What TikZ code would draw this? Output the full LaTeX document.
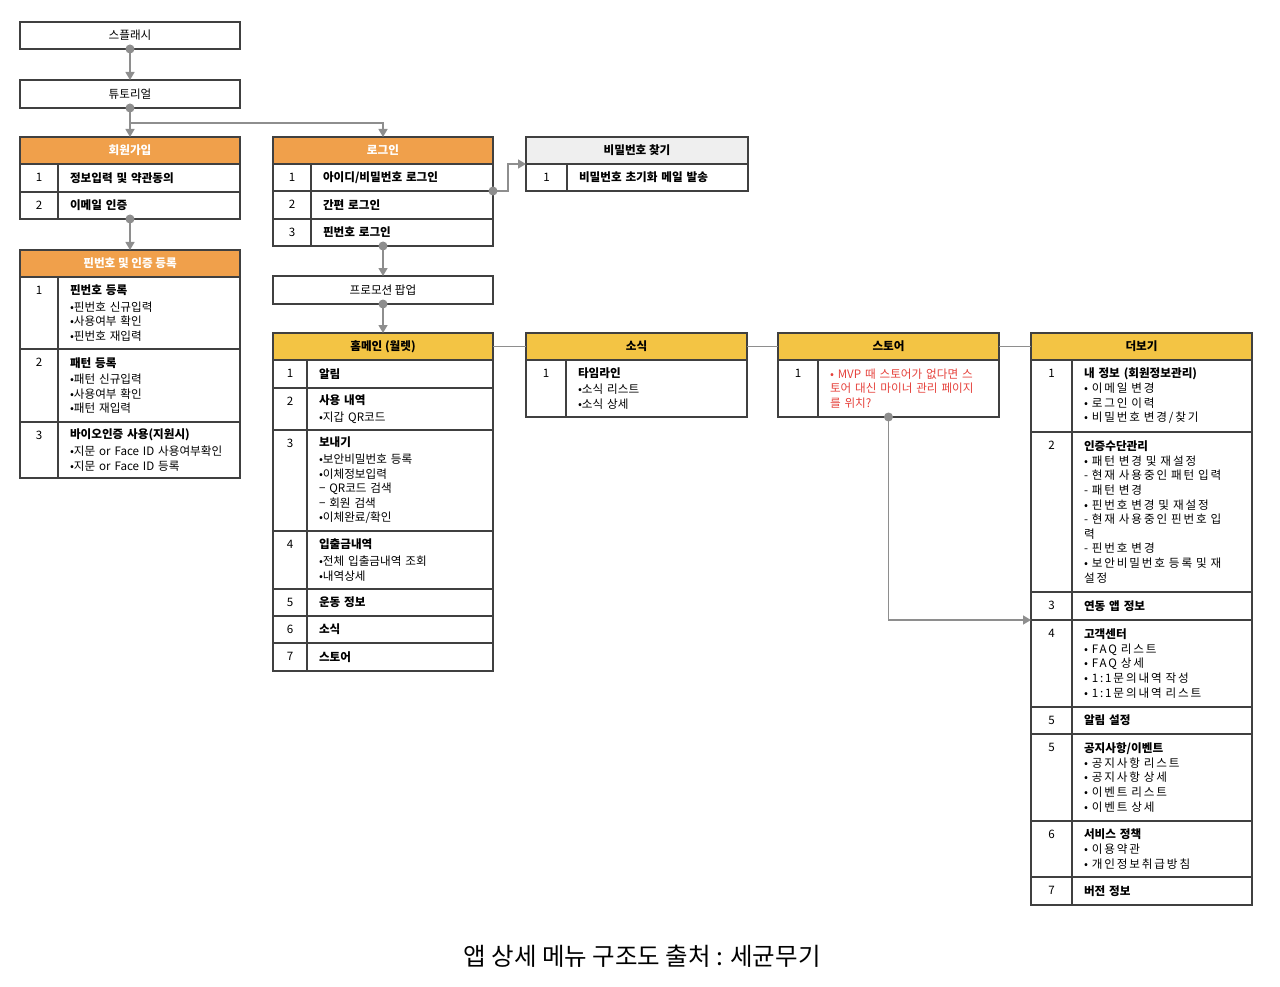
\documentclass[tikz,border=0pt]{standalone}
\usepackage{fontspec}
\setmainfont{Noto Sans CJK KR}
\newfontfamily\widefont[LetterSpace=16]{Noto Sans CJK KR}
\usetikzlibrary{arrows.meta}
\definecolor{hdorange}{HTML}{F0A04B}
\definecolor{hdyellow}{HTML}{F3C444}
\definecolor{hdgray}{HTML}{EFEFEF}
\definecolor{tablegray}{HTML}{404040}
\definecolor{linegray}{HTML}{8E8E8E}
\definecolor{notered}{HTML}{E5413B}
\newcommand\bodyfont{\fontsize{11.6pt}{14.6pt}\selectfont}
\tikzset{
  cell/.style={draw=tablegray, line width=1.1pt, anchor=north west, inner sep=0pt, outer sep=0pt},
  hdcell/.style={cell, minimum height=27pt, font={\bodyfont\bfseries}, fill=#1},
  numcell/.style={cell, minimum width=38pt, minimum height=27pt, label={[anchor=center, yshift=-13.5pt]north:#1}},
  textcell/.style={cell, inner xsep=12pt, align=left, text width=#1},
  boxcell/.style={cell, minimum width=220pt, minimum height=27pt},
  conn/.style={draw=linegray, line width=1.4pt, -{Triangle[length=8pt, width=9pt]}},
  link/.style={draw=linegray, line width=1.2pt},
  dot/.style={circle, fill=linegray, inner sep=0pt, minimum size=9pt}
}
\begin{document}
\begin{tikzpicture}[x=1pt, y=-1pt, font=\bodyfont]
\useasboundingbox (0,0) rectangle (1280,987);
% 스플래시, 튜토리얼
\node[boxcell] (splash) at (20,22) {스플래시};
\node[boxcell, minimum height=28pt] (tut) at (20,80) {튜토리얼};
% 회원가입
\node[hdcell=hdorange, minimum width=220pt, text=white] (join) at (20,137) {회원가입};
\node[numcell=1, minimum height=28pt] (join1n) at (join.south west) {};
\node[textcell=158pt, minimum height=28pt] (join1) at (join1n.north east) {\bfseries 정보입력 및 약관동의};
\node[numcell=2] (join2n) at (join1n.south west) {};
\node[textcell=158pt, minimum height=27pt] (join2) at (join2n.north east) {\bfseries 이메일 인증};
% 핀번호 및 인증 등록
\node[hdcell=hdorange, minimum width=220pt, text=white] (pin) at (20,250) {핀번호 및 인증 등록};
\node[numcell=1, minimum height=72pt] (pin1n) at (pin.south west) {};
\node[textcell=158pt, minimum height=72pt] (pin1) at (pin1n.north east) {{\bfseries 핀번호 등록}\\[2pt] •핀번호 신규입력\\ •사용여부 확인\\ •핀번호 재입력};
\node[numcell=2, minimum height=73pt] (pin2n) at (pin1n.south west) {};
\node[textcell=158pt, minimum height=73pt] (pin2) at (pin2n.north east) {{\bfseries 패턴 등록}\\[2pt] •패턴 신규입력\\ •사용여부 확인\\ •패턴 재입력};
\node[numcell=3, minimum height=56pt] (pin3n) at (pin2n.south west) {};
\node[textcell=158pt, minimum height=56pt] (pin3) at (pin3n.north east) {{\bfseries 바이오인증 사용(지원시)}\\[2pt] •지문 or Face ID 사용여부확인\\ •지문 or Face ID 등록};
% 로그인
\node[hdcell=hdorange, minimum width=220pt, text=white] (login) at (273,137) {로그인};
\node[numcell=1] (login1n) at (login.south west) {};
\node[textcell=158pt, minimum height=27pt] (login1) at (login1n.north east) {\bfseries 아이디/비밀번호 로그인};
\node[numcell=2, minimum height=28pt] (login2n) at (login1n.south west) {};
\node[textcell=158pt, minimum height=28pt] (login2) at (login2n.north east) {\bfseries 간편 로그인};
\node[numcell=3] (login3n) at (login2n.south west) {};
\node[textcell=158pt, minimum height=27pt] (login3) at (login3n.north east) {\bfseries 핀번호 로그인};
% 비밀번호 찾기
\node[hdcell=hdgray, minimum width=222pt] (pw) at (526,137) {비밀번호 찾기};
\node[numcell=1, minimum width=41pt] (pw1n) at (pw.south west) {};
\node[textcell=157pt, minimum height=27pt] (pw1) at (pw1n.north east) {\bfseries 비밀번호 초기화 메일 발송};
% 프로모션 팝업
\node[boxcell, minimum height=28pt] (promo) at (273,276) {프로모션 팝업};
% 홈메인 (월렛)
\node[hdcell=hdyellow, minimum width=220pt] (home) at (273,333) {홈메인 (월렛)};
\node[numcell=1, minimum width=34pt, minimum height=28pt] (home1n) at (home.south west) {};
\node[textcell=162pt, minimum height=28pt] (home1) at (home1n.north east) {\bfseries 알림};
\node[numcell=2, minimum width=34pt, minimum height=42pt] (home2n) at (home1n.south west) {};
\node[textcell=162pt, minimum height=42pt] (home2) at (home2n.north east) {{\bfseries 사용 내역}\\[2pt] •지갑 QR코드};
\node[numcell=3, minimum width=34pt, minimum height=101pt] (home3n) at (home2n.south west) {};
\node[textcell=162pt, minimum height=101pt] (home3) at (home3n.north east) {{\bfseries 보내기}\\[2pt] •보안비밀번호 등록\\ •이체정보입력\\ − QR코드 검색\\ − 회원 검색\\ •이체완료/확인};
\node[numcell=4, minimum width=34pt, minimum height=58pt] (home4n) at (home3n.south west) {};
\node[textcell=162pt, minimum height=58pt] (home4) at (home4n.north east) {{\bfseries 입출금내역}\\[2pt] •전체 입출금내역 조회\\ •내역상세};
\node[numcell=5, minimum width=34pt] (home5n) at (home4n.south west) {};
\node[textcell=162pt, minimum height=27pt] (home5) at (home5n.north east) {\bfseries 운동 정보};
\node[numcell=6, minimum width=34pt] (home6n) at (home5n.south west) {};
\node[textcell=162pt, minimum height=27pt] (home6) at (home6n.north east) {\bfseries 소식};
\node[numcell=7, minimum width=34pt, minimum height=28pt] (home7n) at (home6n.south west) {};
\node[textcell=162pt, minimum height=28pt] (home7) at (home7n.north east) {\bfseries 스토어};
% 소식
\node[hdcell=hdyellow, minimum width=221pt] (news) at (526,333) {소식};
\node[numcell=1, minimum width=40pt, minimum height=57pt] (news1n) at (news.south west) {};
\node[textcell=157pt, minimum height=57pt] (news1) at (news1n.north east) {{\bfseries 타임라인}\\[2pt] •소식 리스트\\ •소식 상세};
% 스토어
\node[hdcell=hdyellow, minimum width=221pt] (store) at (778,333) {스토어};
\node[numcell=1, minimum width=40pt, minimum height=57pt] (store1n) at (store.south west) {};
\node[textcell=157pt, minimum height=57pt, text=notered] (store1) at (store1n.north east) {• MVP 때 스토어가 없다면 스\\ 토어 대신 마이너 관리 페이지\\ 를 위치?};
% 더보기
\node[hdcell=hdyellow, minimum width=221pt] (more) at (1031,333) {더보기};
\node[numcell=1, minimum width=41pt, minimum height=72pt] (more1n) at (more.south west) {};
\node[textcell=156pt, minimum height=72pt] (more1) at (more1n.north east) {{\bfseries 내 정보 (회원정보관리)}\\ \widefont • 이메일 변경\\ • 로그인 이력\\ • 비밀번호 변경/찾기};
\node[numcell=2, minimum width=41pt, minimum height=160pt] (more2n) at (more1n.south west) {};
\node[textcell=156pt, minimum height=160pt] (more2) at (more2n.north east) {{\bfseries 인증수단관리}\\ \widefont • 패턴 변경 및 재설정\\ - 현재 사용중인 패턴 입력\\ - 패턴 변경\\ • 핀번호 변경 및 재설정\\ - 현재 사용중인 핀번호 입\\ 력\\ - 핀번호 변경\\ • 보안비밀번호 등록 및 재\\ 설정};
\node[numcell=3, minimum width=41pt, minimum height=28pt] (more3n) at (more2n.south west) {};
\node[textcell=156pt, minimum height=28pt] (more3) at (more3n.north east) {\bfseries 연동 앱 정보};
\node[numcell=4, minimum width=41pt, minimum height=87pt] (more4n) at (more3n.south west) {};
\node[textcell=156pt, minimum height=87pt] (more4) at (more4n.north east) {{\bfseries 고객센터}\\ \widefont • FAQ 리스트\\ • FAQ 상세\\ • 1:1문의내역 작성\\ • 1:1문의내역 리스트};
\node[numcell=5, minimum width=41pt] (more5n) at (more4n.south west) {};
\node[textcell=156pt, minimum height=27pt] (more5) at (more5n.north east) {\bfseries 알림 설정};
\node[numcell=5, minimum width=41pt, minimum height=87pt] (more6n) at (more5n.south west) {};
\node[textcell=156pt, minimum height=87pt] (more6) at (more6n.north east) {{\bfseries 공지사항/이벤트}\\ \widefont • 공지사항 리스트\\ • 공지사항 상세\\ • 이벤트 리스트\\ • 이벤트 상세};
\node[numcell=6, minimum width=41pt, minimum height=56pt] (more7n) at (more6n.south west) {};
\node[textcell=156pt, minimum height=56pt] (more7) at (more7n.north east) {{\bfseries 서비스 정책}\\ \widefont • 이용약관\\ • 개인정보취급방침};
\node[numcell=7, minimum width=41pt, minimum height=28pt] (more8n) at (more7n.south west) {};
\node[textcell=156pt, minimum height=28pt] (more8) at (more8n.north east) {\bfseries 버전 정보};
% 연결
\node[dot] (splashdot) at (splash.south) {};
\draw[conn] (splashdot.center) -- (tut.north);
\node[dot] (tutdot) at (tut.south) {};
\draw[conn] (tutdot.center) -- (join.north);
\draw[conn] (tutdot.center) ++(0,15) -| (login.north);
\node[dot] (joindot) at (join2n.south -| join.south) {};
\draw[conn] (joindot.center) -- (pin.north);
\node[dot] (logindot) at (login1.south east) {};
\draw[conn] (logindot.center) -- ++(15,0) |- (pw.south west);
\node[dot] (login3dot) at (login3n.south -| login.south) {};
\draw[conn] (login3dot.center) -- (promo.north);
\node[dot] (promodot) at (promo.south) {};
\draw[conn] (promodot.center) -- (home.north);
\draw[link] (home.east) -- (news.west);
\draw[link] (news.east) -- (store.west);
\draw[link] (store.east) -- (more.west);
\node[dot] (storedot) at (store1n.south -| store.south) {};
\draw[conn] (storedot.center) |- (more3n.south west);
% 캡션
\node (caption) at (642,956) {\fontsize{24.5pt}{28pt}\selectfont 앱 상세 메뉴 구조도 출처 : 세균무기};
\end{tikzpicture}
\end{document}
